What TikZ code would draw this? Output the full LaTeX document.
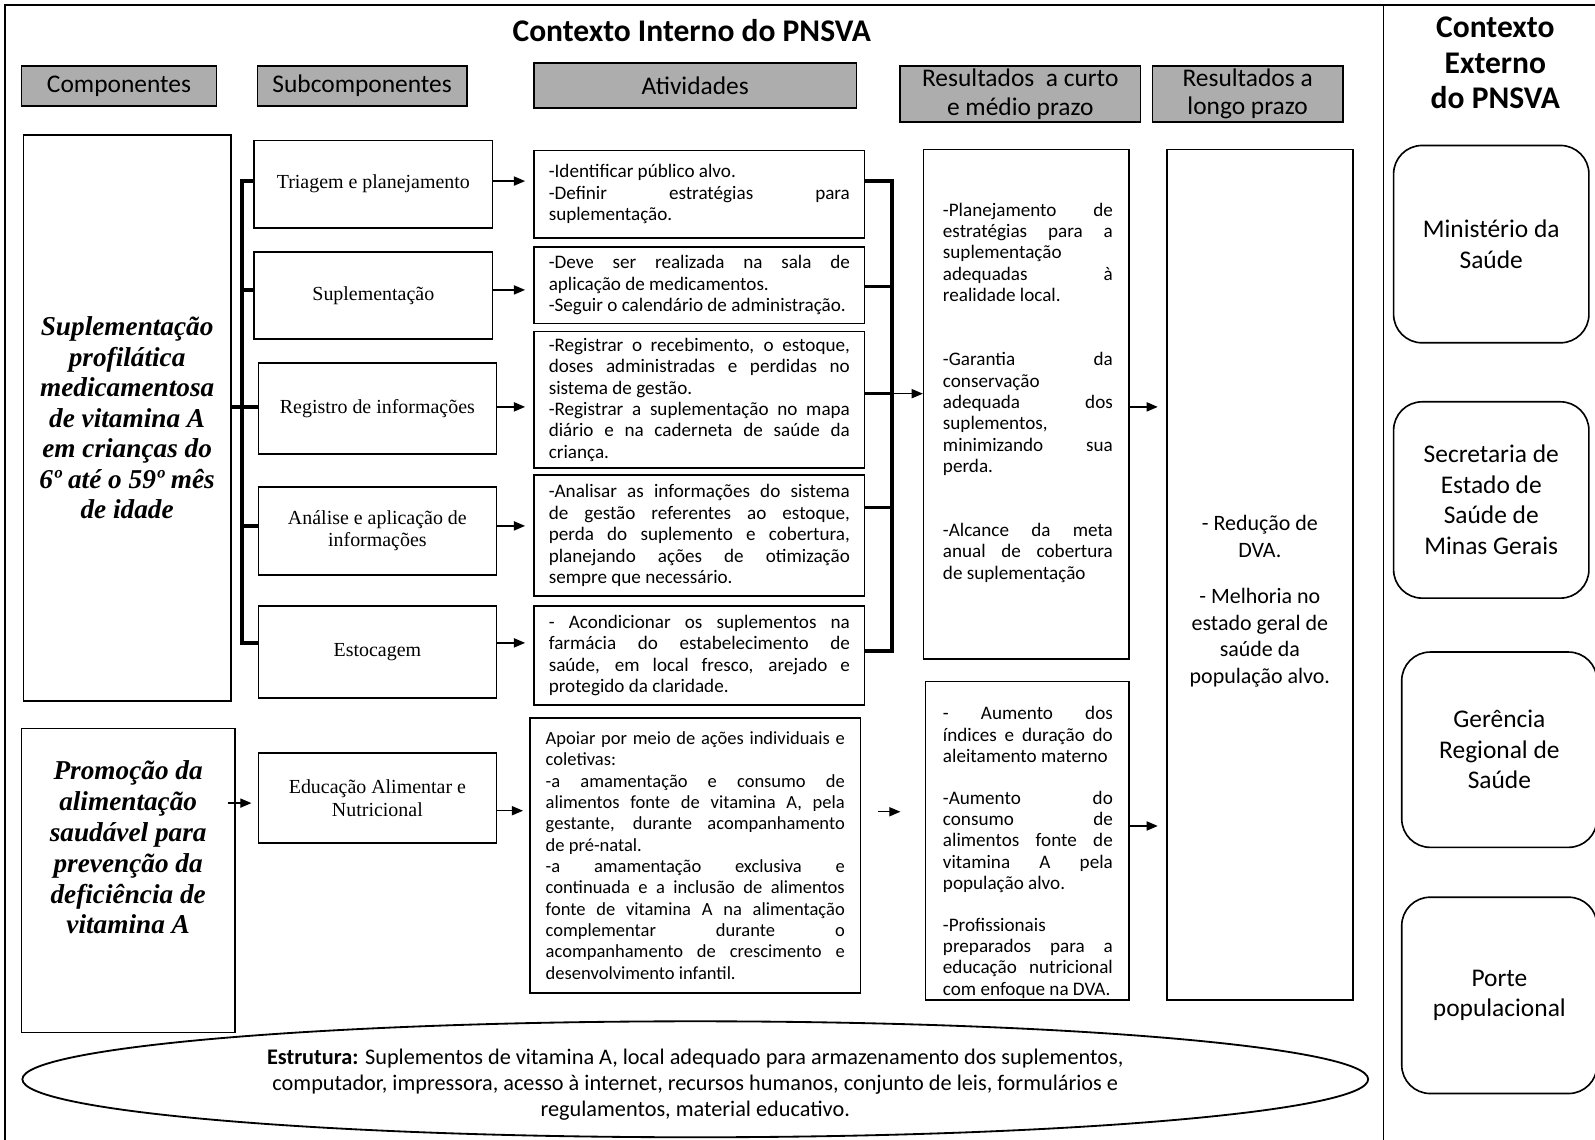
\documentclass[tikz,border=0pt]{standalone}
\usepackage{fontspec}
\setmainfont{Carlito}
\newfontfamily\tnr{Liberation Serif}
\usetikzlibrary{arrows.meta,shapes.geometric,calc}
\definecolor{hdrgray}{RGB}{173,173,173}
\hyphenpenalty=10000
\exhyphenpenalty=10000
\tolerance=10000
\hbadness=10000

\tikzset{
  sz/.style 2 args={minimum width=#1*0.5pt, minimum height=#2*0.5pt},
  box/.style={draw, line width=0.8pt, inner sep=0pt},
  hdr/.style={box, fill=hdrgray, font=\fontsize{12.5}{14}\selectfont, align=center},
  comp/.style={box, font=\tnr\bfseries\itshape\fontsize{13.4}{15}\selectfont, align=center},
  sub/.style={box, font=\tnr\fontsize{9.8}{11}\selectfont, align=center},
  act/.style={box, text width=148pt, inner xsep=7.25pt, align=justify,
              font=\fontsize{9.4}{10.5}\selectfont},
  restxt/.style={inner sep=0pt, text width=83.5pt, align=justify, anchor=north,
              font=\fontsize{9.4}{10.5}\selectfont},
  ext/.style={box, rounded corners=14pt, font=\fontsize{12.5}{15}\selectfont, align=center},
  arr/.style={-{Triangle[length=5.5pt,width=4.5pt]}, line width=0.7pt},
  brk/.style={line width=1.6pt},
}

\begin{document}
\begin{tikzpicture}[x=0.5pt,y=-0.5pt]
\clip (0,0) rectangle (1568,1120);

% outer frame and divider between internal and external context
\draw[line width=0.8pt] (5,1130) -- (5,5) -- (1580,5);
\draw[line width=0.8pt] (1360,5) -- (1360,1130);

% titles
\node[font=\bfseries\fontsize{15.5}{18}\selectfont] (title) at (680,30) {Contexto Interno do PNSVA};
\node[font=\bfseries\fontsize{15.5}{17.5}\selectfont, align=center] (exttitle) at (1470,62)
  {Contexto\\Externo\\do PNSVA};

% column headers
\node[hdr, sz={192}{39}] (hcomp) at (117,84.5) {Componentes};
\node[hdr, sz={206}{39}] (hsub) at (356,84.5) {Subcomponentes};
\node[hdr, sz={317}{44}] (hatv) at (683.5,84) {Atividades};
\node[hdr, sz={236}{55}] (hcurto) at (1003,92.5) {Resultados\ \ a curto\\e médio prazo};
\node[hdr, sz={187}{55}] (hlongo) at (1226.5,92.5) {Resultados a\\longo prazo};

% components
\node[comp, sz={204}{556}] (comp1) at (125,411)
  {Suplementação\\profilática\\medicamentosa\\de vitamina A\\em crianças do\\6º até o 59º mês\\de idade};
\node[box, sz={210}{299}] (comp2) at (126,865.5) {};
\node[font=\tnr\bfseries\itshape\fontsize{13.4}{15.2}\selectfont, align=center] (comp2txt) at (126,833)
  {Promoção da\\alimentação\\saudável para\\prevenção da\\deficiência de\\vitamina A};

% subcomponents
\node[sub, sz={234}{86}] (s1) at (367,181) {Triagem e planejamento};
\node[sub, sz={234}{85}] (s2) at (367,290.5) {Suplementação};
\node[sub, sz={234}{89}] (s3) at (371,401.5) {Registro de informações};
\node[sub, sz={234}{86}] (s4) at (371,522) {Análise e aplicação de\\informações};
\node[sub, sz={234}{90}] (s5) at (371,641) {Estocagem};
\node[sub, sz={234}{89}] (s6) at (371,784.5) {Educação Alimentar e\\Nutricional};

% activities
\node[act, minimum height=43pt] (a1) at (687.5,191)
  {-Identificar público alvo.\par
   -Definir estratégias para\linebreak suplementação.};
\node[act, minimum height=37.5pt] (a2) at (687.5,280.5)
  {-Deve ser realizada na sala de\linebreak aplicação de medicamentos.\par
   -Seguir o calendário de administração.};
\node[act, minimum height=67pt] (a3) at (687.5,393)
  {-Registrar o recebimento, o estoque,\linebreak doses administradas e perdidas no\linebreak sistema de gestão.\par
   -Registrar a suplementação no mapa\linebreak diário e na caderneta de saúde da\linebreak criança.};
\node[act, minimum height=59.5pt] (a4) at (687.5,526.5)
  {-Analisar as informações do sistema\linebreak de gestão referentes ao estoque,\linebreak perda do suplemento e cobertura,\linebreak planejando ações de otimização\linebreak sempre que necessário.};
\node[act, minimum height=48.5pt] (a5) at (687.5,644.5)
  {- Acondicionar os suplementos na\linebreak farmácia do estabelecimento de\linebreak saúde, em local fresco, arejado e\linebreak protegido da claridade.};
\node[act, minimum height=135pt, text width=147pt, inner xsep=7.75pt,
      font=\fontsize{9.1}{10.5}\selectfont] (a6) at (683.5,841)
  {Apoiar por meio de ações individuais e\linebreak coletivas:\par
   -a amamentação e consumo de\linebreak alimentos fonte de vitamina A, pela\linebreak gestante, durante acompanhamento\linebreak de pré-natal.\par
   -a amamentação exclusiva e\linebreak continuada e a inclusão de alimentos\linebreak fonte de vitamina A na alimentação\linebreak complementar durante o\linebreak acompanhamento de crescimento e\linebreak desenvolvimento infantil.};

% short and medium term results
\node[box, sz={202}{501}] (r1) at (1009,397.5) {};
\node[restxt] (r1txt) at (1010.5,199)
  {-Planejamento de\linebreak estratégias para a\linebreak suplementação\linebreak adequadas à\linebreak realidade local.\par\vspace{21pt}
   -Garantia da\linebreak conservação\linebreak adequada dos\linebreak suplementos,\linebreak minimizando sua\linebreak perda.\par\vspace{21pt}
   -Alcance da meta\linebreak anual de cobertura\linebreak de suplementação};
\node[box, sz={200}{313}] (r2) at (1010,826.5) {};
\node[restxt] (r2txt) at (1010.5,694)
  {- Aumento dos\linebreak índices e duração do\linebreak aleitamento materno\par\vspace{10pt}
   -Aumento do\linebreak consumo de\linebreak alimentos fonte de\linebreak vitamina A pela\linebreak população alvo.\par\vspace{10pt}
   -Profissionais\linebreak preparados para a\linebreak educação nutricional\linebreak com enfoque na DVA.};

% long term results
\node[box, sz={183}{836}] (rl) at (1238.5,565) {};
\node[font=\fontsize{10.8}{13}\selectfont, align=center] (rltxt) at (1238.5,591)
  {- Redução de\\DVA.\\[10pt]- Melhoria no\\estado geral de\\saúde da\\população alvo.};

% external context
\node[ext, sz={192}{194}] (e1) at (1466,240) {Ministério da\\Saúde};
\node[ext, sz={192}{193}] (e2) at (1466,491.5) {Secretaria de\\Estado de\\Saúde de\\Minas Gerais};
\node[ext, sz={192}{192}] (e3) at (1474,737) {Gerência\\Regional de\\Saúde};
\node[ext, sz={192}{193}] (e4) at (1474,978.5) {Porte\\populacional};

% structure
\node[draw, ellipse, line width=0.9pt, inner sep=0pt, sz={1323}{114}] (struct) at (683.5,1061) {};
\node[font=\fontsize{10.95}{12.8}\selectfont, align=center] (structtxt) at (683.5,1066)
  {\textbf{Estrutura:} Suplementos de vitamina A, local adequado para armazenamento dos suplementos,\\
   computador, impressora, acesso à internet, recursos humanos, conjunto de leis, formulários e\\
   regulamentos, material educativo.};

% horizontal levels of the subcomponent rows
\coordinate (p1) at (0,178);
\coordinate (p2) at (0,285);
\coordinate (p3) at (0,400);
\coordinate (p4) at (0,517);
\coordinate (p5) at (0,632);
\coordinate (p6) at (0,797);

% bracket joining the subcomponents
\coordinate (L) at (238,0);
\draw[brk] (p1 -| s1.west) -- (p1 -| L) -- (p5 -| L) -- (p5 -| s5.west);
\draw[brk] (p2 -| s2.west) -- (p2 -| L);
\draw[brk] (p3 -| s3.west) -- (p3 -| L);
\draw[brk] (p4 -| s4.west) -- (p4 -| L);
\draw[brk] (p3 -| comp1.east) -- (p3 -| L);

% subcomponent to activity arrows
\draw[arr, shorten >=4pt] (p1 -| s1.east) -- (p1 -| a1.west);
\draw[arr, shorten >=4pt] (p2 -| s2.east) -- (p2 -| a2.west);
\draw[arr, shorten >=4pt] (p3 -| s3.east) -- (p3 -| a3.west);
\draw[arr, shorten >=4pt] (p4 -| s4.east) -- (p4 -| a4.west);
\draw[arr, shorten >=4pt] (p5 -| s5.east) -- (p5 -| a5.west);
\draw[arr, shorten >=3pt] (p6 -| s6.east) -- (p6 -| a6.west);
\draw[arr, shorten >=3pt] ($(comp2.east |- s6.west)+(-8,5)$) -- ($(s6.west)+(0,5)$);

% bracket joining the activities
\coordinate (t1) at (877,178);
\coordinate (t2) at (877,282);
\coordinate (t3) at (877,387);
\coordinate (t4) at (877,499);
\coordinate (t5) at (877,640);
\draw[brk] (t1 -| a1.east) -- (t1) -- (t5) -- (t5 -| a5.east);
\draw[brk] (t2 -| a2.east) -- (t2);
\draw[brk] (t3 -| a3.east) -- (t3);
\draw[brk] (t4 -| a4.east) -- (t4);
\draw[arr] (t3) -- (t3 -| r1.west);

% results arrows
\coordinate (q1) at (0,400);
\coordinate (q2) at (0,812);
\coordinate (q3) at (0,798);
\draw[arr, shorten >=4pt] (q1 -| r1.east) -- (q1 -| rl.west);
\draw[arr, shorten >=4pt] (q2 -| r2.east) -- (q2 -| rl.west);
\draw[arr, shorten <=8pt, shorten >=12pt] (q3 -| a6.east) -- (q3 -| r2.west);
\end{tikzpicture}
\end{document}
